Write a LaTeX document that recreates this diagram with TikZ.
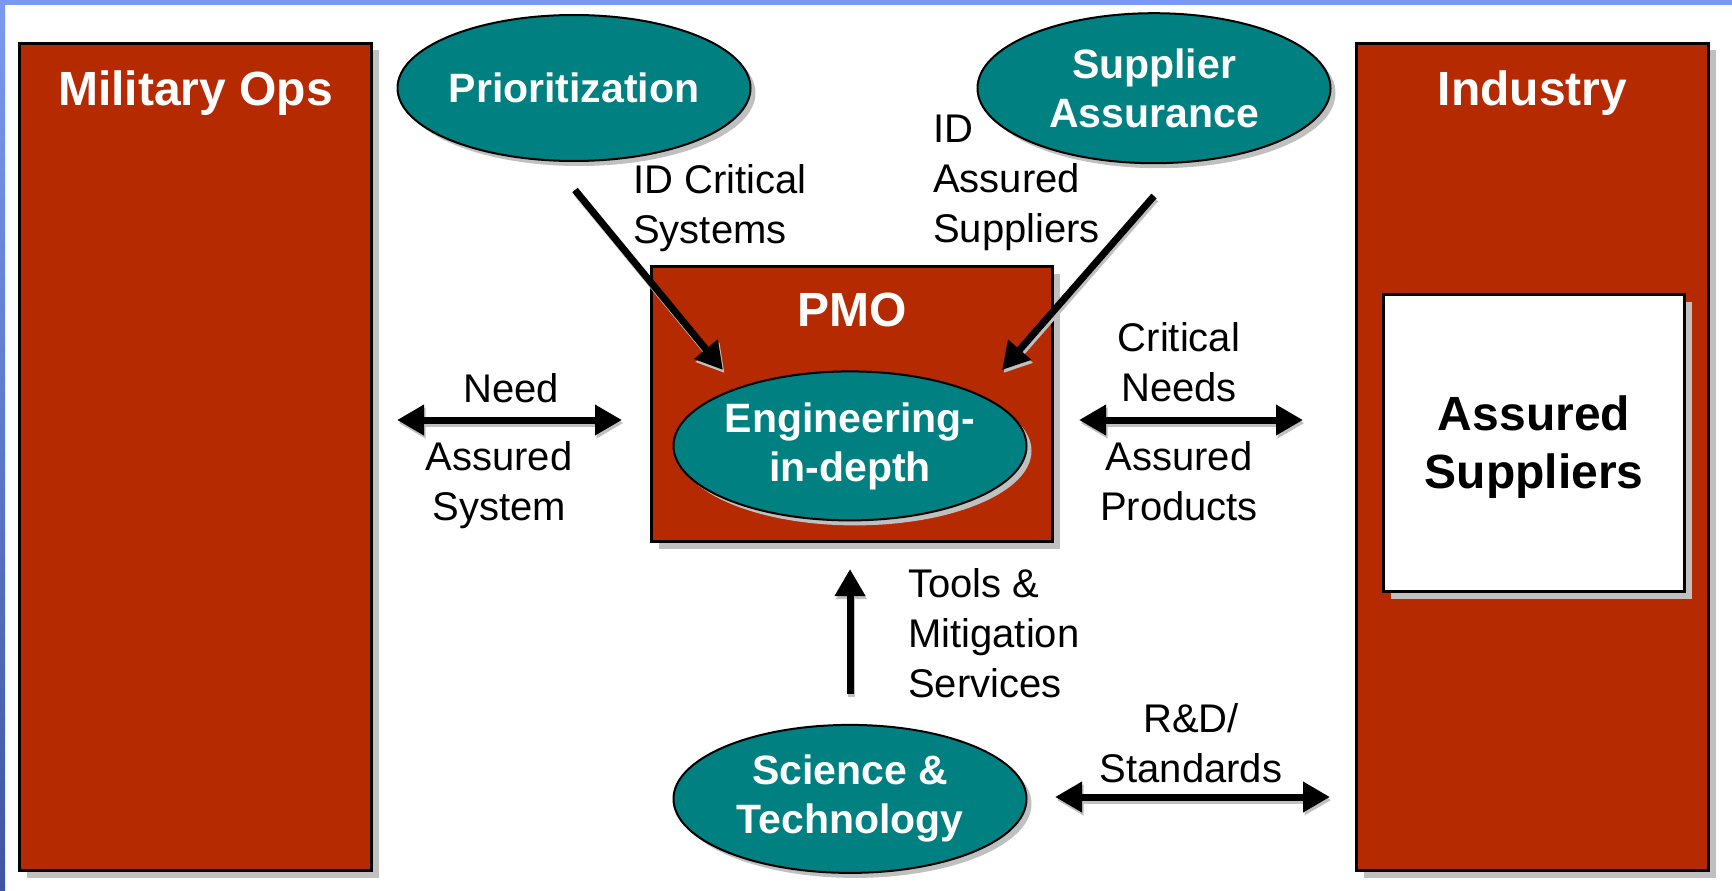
\documentclass[tikz,border=0pt]{standalone}
\usepackage{fontspec}
\setmainfont{Liberation Sans}
\usetikzlibrary{shapes.geometric,shadows,arrows.meta}
\definecolor{boxred}{RGB}{181,42,0}
\definecolor{tealfill}{RGB}{0,128,128}
\definecolor{shadowgray}{RGB}{192,192,192}
\definecolor{frametop}{RGB}{122,154,240}
\definecolor{frameleft}{RGB}{62,86,160}
\begin{document}
\begin{tikzpicture}[x=1pt,y=-1pt,
  redbox/.style={rectangle,draw=black,line width=3pt,fill=boxred,inner sep=0pt,
    drop shadow={shadow xshift=7pt,shadow yshift=-7pt,fill=shadowgray,opacity=1}},
  whitebox/.style={rectangle,draw=black,line width=2.5pt,fill=white,inner sep=0pt,
    drop shadow={shadow xshift=7pt,shadow yshift=-7pt,fill=shadowgray,opacity=1}},
  oval/.style={ellipse,draw=black,line width=2pt,fill=tealfill,text=white,
    inner xsep=-30pt,inner ysep=0pt,minimum width=353pt,
    font=\fontsize{41}{49}\selectfont\bfseries,align=center,
    drop shadow={shadow xshift=5pt,shadow yshift=-5pt,fill=shadowgray,opacity=1}},
  title/.style={inner sep=0pt,text=white,font=\fontsize{48}{58}\selectfont\bfseries,align=center},
  lbl/.style={inner sep=0pt,text=black,font=\fontsize{40}{50}\selectfont,align=center},
  lbll/.style={lbl,align=left,anchor=west},
  tipa/.tip={Triangle[length=27pt,width=29pt]},
  arr/.style={draw=black,line width=7pt,-tipa},
  darr/.style={draw=black,line width=7pt,tipa-tipa},
  arrsh/.style={draw=shadowgray,transform canvas={shift={(1.5pt,-3pt)}}}
]
\useasboundingbox (0,0) rectangle (1732,891);
\fill[white] (0,0) rectangle (1732,891);
\fill[frametop] (0,0) rectangle (1732,5);
\shade[top color=frametop,bottom color=frameleft] (0,0) rectangle (5,891);

% big side boxes
\node[redbox,minimum width=352pt,minimum height=827pt] (mil) at (195.5,457) {};
\node[title] (milT) at (195.5,92.7) {Military Ops};
\node[redbox,minimum width=352pt,minimum height=827pt] (ind) at (1532.5,457) {};
\node[title] (indT) at (1532.5,92.7) {Industry};
\node[whitebox,minimum width=301pt,minimum height=297pt] (asb) at (1534,443) {};
\node[title,text=black] (asbT) at (1534,446.7) {Assured\\Suppliers};

% PMO
\node[redbox,minimum width=401pt,minimum height=275pt] (pmo) at (852,404) {};
\node[title] (pmoT) at (852,310) {PMO};

% ellipses
\node[oval,minimum height=146pt] (pri) at (574,88) {Prioritization};
\node[oval,minimum height=150pt] (sa) at (1154,88.2) {Supplier\\Assurance};
\node[oval,minimum height=149pt] (eng) at (850,445.9) {Engineering-\\in-depth};
\node[oval,minimum height=148pt] (st) at (850,798.9) {Science \&\\Technology};

% connector end points
\coordinate (c1a) at (575,190);  \coordinate (c1b) at (723,370);
\coordinate (c2a) at (1154,196); \coordinate (c2b) at (1002,370);
\coordinate (c3a) at (397,420);  \coordinate (c3b) at (622,420);
\coordinate (c4a) at (1079,420); \coordinate (c4b) at (1303,420);
\coordinate (c5a) at (850,694);  \coordinate (c5b) at (850,569);
\coordinate (c6a) at (1055,797); \coordinate (c6b) at (1330,797);

% shadows of arrows
\draw[arr,arrsh] (c1a) -- (c1b);
\draw[arr,arrsh] (c2a) -- (c2b);
\draw[darr,arrsh] (c3a) -- (c3b);
\draw[darr,arrsh] (c4a) -- (c4b);
\draw[arr,arrsh] (c5a) -- (c5b);
\draw[darr,arrsh] (c6a) -- (c6b);
% arrows
\draw[arr] (c1a) -- (c1b);
\draw[arr] (c2a) -- (c2b);
\draw[darr] (c3a) -- (c3b);
\draw[darr] (c4a) -- (c4b);
\draw[arr] (c5a) -- (c5b);
\draw[darr] (c6a) -- (c6b);

% labels
\node[lbll] (l1) at (633,207.9) {ID Critical\\Systems};
\node[lbll] (l2) at (933,182.9) {ID\\Assured\\Suppliers};
\node[lbl] (l3) at (511,388) {Need};
\node[lbl] (l4) at (499,485) {Assured\\System};
\node[lbl] (l5) at (1179,362) {Critical\\Needs};
\node[lbl] (l6) at (1179,481) {Assured\\Products};
\node[lbll] (l7) at (908,633) {Tools \&\\Mitigation\\Services};
\node[lbl] (l8) at (1191,743) {R\&D/\\Standards};
\end{tikzpicture}
\end{document}
